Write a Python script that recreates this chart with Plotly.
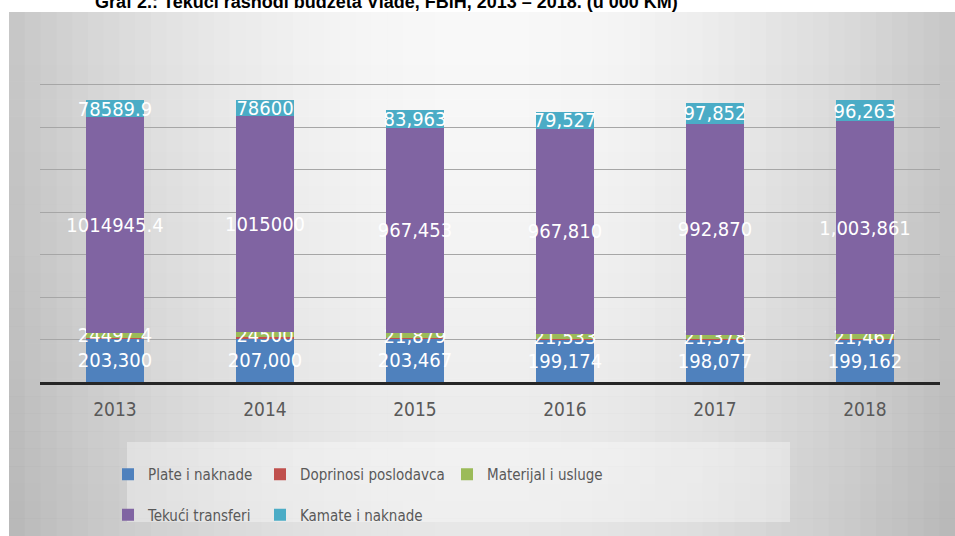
import plotly.graph_objects as go

# ---- data (thousand KM) ----
years = ["2013", "2014", "2015", "2016", "2017", "2018"]
plate = [203300, 207000, 203467, 199174, 198077, 199162]
doprinosi = [4000, 4000, 4000, 4000, 4000, 4000]
materijal = [24497.4, 24500, 21879, 21533, 21378, 21467]
transferi = [1014945.4, 1015000, 967453, 967810, 992870, 1003861]
kamate = [78589.9, 78600, 83963, 79527, 97852, 96263]

series_names = ["Plate i naknade", "Doprinosi poslodavca", "Materijal i usluge",
                "Tekući transferi", "Kamate i naknade"]

GROUPED_FROM = 2015  # from this year on, labels use thousands separators

TITLE = "Graf 2.: Tekući rashodi budžeta Vlade, FBiH, 2013 – 2018. (u 000 KM)"

W, H = 955, 536
L, R, T, B = 40, 15, 42, 154          # plot area: x 40..940, y 42..382
PW, PH = W - L - R, H - T - B

LABEL_FONT = "DejaVu Sans Condensed, Liberation Sans Narrow, DejaVu Sans"
GREY_TEXT = "#595959"


def px_x(p):
    return (p - L) / PW


def px_y(p):
    return (H - B - p) / PH


def fmt(v, grouped):
    if grouped:
        return f"{v:,.0f}"
    return f"{v:.1f}".rstrip("0").rstrip(".")


def labels(values, always_grouped=False):
    return [fmt(v, always_grouped or int(y) >= GROUPED_FROM) for v, y in zip(values, years)]


series = [
    # name, values, colour, labelled, always grouped, legend
    (series_names[0], plate, "#4F81BD", True, True, "legend"),
    (series_names[1], doprinosi, "#C0504D", False, False, "legend2"),
    (series_names[2], materijal, "#9BBB59", True, False, "legend3"),
    (series_names[3], transferi, "#8064A2", True, False, "legend"),
    (series_names[4], kamate, "#4BACC6", True, False, "legend2"),
]

fig = go.Figure()
for name, vals, color, labelled, grouped, leg in series:
    fig.add_trace(go.Bar(
        x=years, y=vals, name=name,
        marker=dict(color=color, line=dict(width=0)),
        text=labels(vals, grouped) if labelled else None,
        textposition="inside" if labelled else "none",
        insidetextanchor="middle",
        textangle=0,
        constraintext="none",
        cliponaxis=False,
        textfont=dict(color="white", size=20, family=LABEL_FONT),
        legend=leg, legendgroup=name,
    ))

# soft grey background: lighter in the middle, darker toward the edges
shapes = []
x0p, x1p = 9, W
n = 60
for i in range(n):
    a = x0p + (x1p - x0p) * i / n
    b = x0p + (x1p - x0p) * (i + 1) / n
    mid = (a + b) / 2
    d = min(abs(mid - 480) / 470, 1.0)
    g = int(round(248 - 50 * d ** 2))
    shapes.append(dict(type="rect", xref="paper", yref="paper", layer="below",
                       x0=px_x(a), x1=px_x(b + 1), y0=px_y(H), y1=px_y(12),
                       fillcolor=f"rgb({g},{g},{g})", line=dict(width=0)))
# slight darkening toward the bottom
m = 30
for j in range(m):
    a = 12 + (H - 12) * j / m
    b = 12 + (H - 12) * (j + 1) / m
    alpha = 0.07 * ((j + 0.5) / m) ** 1.5
    shapes.append(dict(type="rect", xref="paper", yref="paper", layer="below",
                       x0=px_x(x0p), x1=px_x(x1p), y0=px_y(b), y1=px_y(a) + 0.0005,
                       fillcolor=f"rgba(0,0,0,{alpha:.4f})", line=dict(width=0)))
# lighter legend panel
shapes.append(dict(type="rect", xref="paper", yref="paper", layer="below",
                   x0=px_x(127), x1=px_x(790), y0=px_y(522), y1=px_y(442),
                   fillcolor="rgba(255,255,255,0.35)", line=dict(width=0)))
# white strips above and left of the chart panel
shapes.append(dict(type="rect", xref="paper", yref="paper", layer="below",
                   x0=px_x(0), x1=px_x(W), y0=px_y(12), y1=px_y(0),
                   fillcolor="white", line=dict(width=0)))
shapes.append(dict(type="rect", xref="paper", yref="paper", layer="below",
                   x0=px_x(0), x1=px_x(9), y0=px_y(H), y1=px_y(0),
                   fillcolor="white", line=dict(width=0)))

legend_common = dict(
    orientation="v", yanchor="top", xanchor="left",
    xref="container", yref="container",
    bgcolor="rgba(0,0,0,0)", borderwidth=0,
    font=dict(family=LABEL_FONT, size=15, color=GREY_TEXT),
    tracegroupgap=18, itemclick=False, itemdoubleclick=False,
)
LEG_TOP = 1 - 458 / H

fig.update_layout(
    width=W, height=H,
    margin=dict(l=L, r=R, t=T, b=B, autoexpand=False),
    paper_bgcolor="#c8c8c8",
    plot_bgcolor="rgba(0,0,0,0)",
    barmode="stack",
    bargap=0.61,
    shapes=shapes,
    showlegend=True,
    legend=dict(x=108 / W, y=LEG_TOP, **legend_common),
    legend2=dict(x=260 / W, y=LEG_TOP, **legend_common),
    legend3=dict(x=447 / W, y=LEG_TOP, **legend_common),
    xaxis=dict(
        type="category", showgrid=False, zeroline=False,
        showline=True, linecolor="#262626", linewidth=3,
        ticks="", ticklabelstandoff=8,
        tickfont=dict(family=LABEL_FONT, size=19, color=GREY_TEXT),
    ),
    yaxis=dict(
        range=[0, 1600000], dtick=200000, tick0=0,
        showgrid=True, gridcolor="#a6a6a6", gridwidth=1,
        zeroline=False, showticklabels=False, ticks="",
    ),
    annotations=[dict(
        text=f"<b>{TITLE}</b>", xref="paper", yref="paper",
        x=px_x(93), y=1, xanchor="left", yanchor="bottom", yshift=28,
        showarrow=False, font=dict(family="Liberation Sans, Arial", size=18, color="black"),
    )],
)

fig.write_html("out.html")
